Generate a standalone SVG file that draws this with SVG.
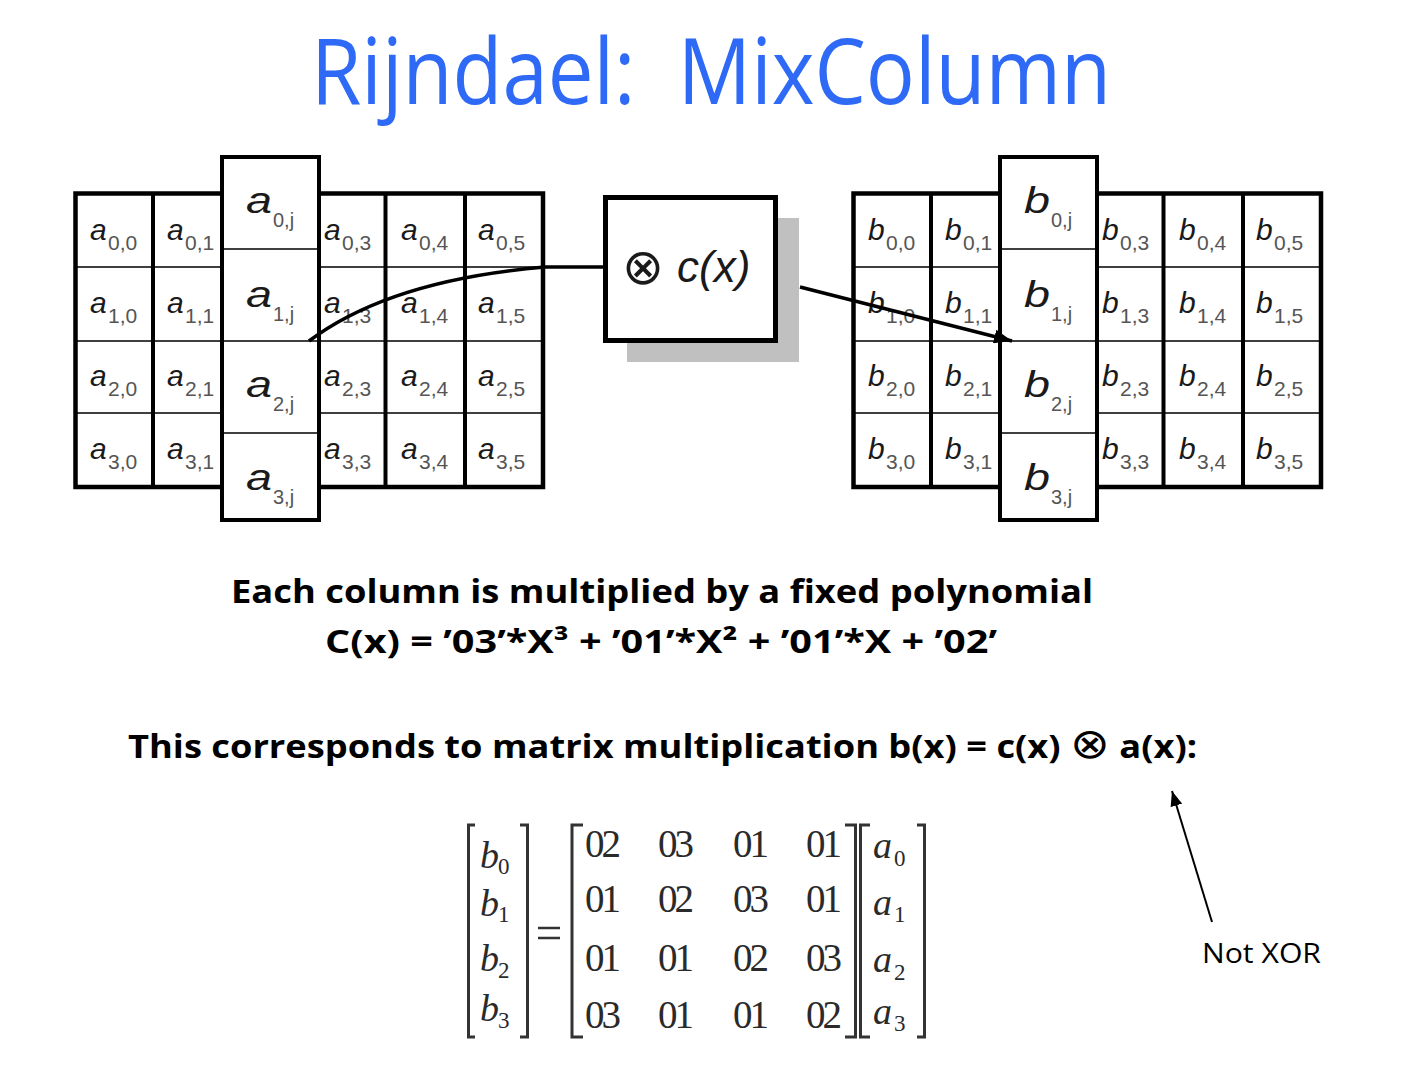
<svg xmlns="http://www.w3.org/2000/svg" xmlns:xlink="http://www.w3.org/1999/xlink" width="1418" height="1066" viewBox="0 0 1418 1066">
<style>
.m{font-family:"Liberation Sans",Arial,sans-serif;font-style:italic;font-size:30px;fill:#1a1a1a}
.s{font-family:"Liberation Sans",Arial,sans-serif;font-size:21px;fill:#555}
.mc{font-family:"Liberation Sans",Arial,sans-serif;font-style:italic;font-size:36px;fill:#1a1a1a}
.sc{font-family:"Liberation Sans",Arial,sans-serif;font-size:20px;fill:#555}
.thin{stroke:#000;stroke-width:1.5;fill:none}
.thick{stroke:#000;stroke-width:4;fill:none}
.bold{font-family:"Open Sans","DejaVu Sans",sans-serif;font-weight:bold;font-size:32px;fill:#000}
.mx{font-family:"Liberation Serif","Times New Roman",serif;font-size:39px;fill:#2a2a2a}
.mv{font-family:"Liberation Serif","Times New Roman",serif;font-style:italic;font-size:38px;fill:#2a2a2a}
.ms{font-family:"Liberation Serif","Times New Roman",serif;font-size:23px;fill:#2a2a2a}
.br{stroke:#333;stroke-width:3;fill:none}
.conn{stroke:#000;stroke-width:3.5;fill:none}
</style>
<defs>
<g id="gridShape">
<rect x="75.5" y="193.5" width="467.5" height="293.5" fill="#fff" stroke="#000" stroke-width="4.5"/>
<path class="thin" d="M75.5 267H543M75.5 341H543M75.5 413H543"/>
<path class="thick" d="M153 193.5V487M385.5 193.5V487M465 193.5V487"/>
<rect x="222" y="157" width="97" height="363" fill="#fff" stroke="#000" stroke-width="4"/>
<path class="thin" d="M222 249H319M222 341H319M222 433H319"/>
</g>
<marker id="ah" markerUnits="userSpaceOnUse" markerWidth="20" markerHeight="14" refX="18" refY="7" orient="auto">
<path d="M0 0L18 7L0 14z" fill="#000"/>
</marker>
<marker id="ah2" markerUnits="userSpaceOnUse" markerWidth="16" markerHeight="12" refX="15" refY="6" orient="auto">
<path d="M0 0L15 6L0 12z" fill="#000"/>
</marker>
</defs>
<rect width="1418" height="1066" fill="#fff"/>

<g id="title">
<text x="311" y="104" xml:space="preserve" font-family="Open Sans, DejaVu Sans, sans-serif" font-size="92" fill="#2e6af6" textLength="800" lengthAdjust="spacingAndGlyphs">Rijndael:  MixColumn</text>
</g>

<g id="grid-a">
<use xlink:href="#gridShape"/>
<text class="m" x="90" y="240">a</text><text class="s" x="108" y="250">0,0</text>
<text class="m" x="167" y="240">a</text><text class="s" x="185" y="250">0,1</text>
<text class="m" x="324" y="240">a</text><text class="s" x="342" y="250">0,3</text>
<text class="m" x="401" y="240">a</text><text class="s" x="419" y="250">0,4</text>
<text class="m" x="478" y="240">a</text><text class="s" x="496" y="250">0,5</text>
<text class="m" x="90" y="313">a</text><text class="s" x="108" y="323">1,0</text>
<text class="m" x="167" y="313">a</text><text class="s" x="185" y="323">1,1</text>
<text class="m" x="324" y="313">a</text><text class="s" x="342" y="323">1,3</text>
<text class="m" x="401" y="313">a</text><text class="s" x="419" y="323">1,4</text>
<text class="m" x="478" y="313">a</text><text class="s" x="496" y="323">1,5</text>
<text class="m" x="90" y="386">a</text><text class="s" x="108" y="396">2,0</text>
<text class="m" x="167" y="386">a</text><text class="s" x="185" y="396">2,1</text>
<text class="m" x="324" y="386">a</text><text class="s" x="342" y="396">2,3</text>
<text class="m" x="401" y="386">a</text><text class="s" x="419" y="396">2,4</text>
<text class="m" x="478" y="386">a</text><text class="s" x="496" y="396">2,5</text>
<text class="m" x="90" y="459">a</text><text class="s" x="108" y="469">3,0</text>
<text class="m" x="167" y="459">a</text><text class="s" x="185" y="469">3,1</text>
<text class="m" x="324" y="459">a</text><text class="s" x="342" y="469">3,3</text>
<text class="m" x="401" y="459">a</text><text class="s" x="419" y="469">3,4</text>
<text class="m" x="478" y="459">a</text><text class="s" x="496" y="469">3,5</text>
<text class="mc" x="246" y="213" textLength="26" lengthAdjust="spacingAndGlyphs">a</text><text class="sc" x="273" y="227">0,j</text>
<text class="mc" x="246" y="307" textLength="26" lengthAdjust="spacingAndGlyphs">a</text><text class="sc" x="273" y="321">1,j</text>
<text class="mc" x="246" y="397" textLength="26" lengthAdjust="spacingAndGlyphs">a</text><text class="sc" x="273" y="411">2,j</text>
<text class="mc" x="246" y="490" textLength="26" lengthAdjust="spacingAndGlyphs">a</text><text class="sc" x="273" y="504">3,j</text>
</g>

<g id="grid-b">
<use xlink:href="#gridShape" transform="translate(778,0)"/>
<text class="m" x="868" y="240">b</text><text class="s" x="886" y="250">0,0</text>
<text class="m" x="945" y="240">b</text><text class="s" x="963" y="250">0,1</text>
<text class="m" x="1102" y="240">b</text><text class="s" x="1120" y="250">0,3</text>
<text class="m" x="1179" y="240">b</text><text class="s" x="1197" y="250">0,4</text>
<text class="m" x="1256" y="240">b</text><text class="s" x="1274" y="250">0,5</text>
<text class="m" x="868" y="313">b</text><text class="s" x="886" y="323">1,0</text>
<text class="m" x="945" y="313">b</text><text class="s" x="963" y="323">1,1</text>
<text class="m" x="1102" y="313">b</text><text class="s" x="1120" y="323">1,3</text>
<text class="m" x="1179" y="313">b</text><text class="s" x="1197" y="323">1,4</text>
<text class="m" x="1256" y="313">b</text><text class="s" x="1274" y="323">1,5</text>
<text class="m" x="868" y="386">b</text><text class="s" x="886" y="396">2,0</text>
<text class="m" x="945" y="386">b</text><text class="s" x="963" y="396">2,1</text>
<text class="m" x="1102" y="386">b</text><text class="s" x="1120" y="396">2,3</text>
<text class="m" x="1179" y="386">b</text><text class="s" x="1197" y="396">2,4</text>
<text class="m" x="1256" y="386">b</text><text class="s" x="1274" y="396">2,5</text>
<text class="m" x="868" y="459">b</text><text class="s" x="886" y="469">3,0</text>
<text class="m" x="945" y="459">b</text><text class="s" x="963" y="469">3,1</text>
<text class="m" x="1102" y="459">b</text><text class="s" x="1120" y="469">3,3</text>
<text class="m" x="1179" y="459">b</text><text class="s" x="1197" y="469">3,4</text>
<text class="m" x="1256" y="459">b</text><text class="s" x="1274" y="469">3,5</text>
<text class="mc" x="1024" y="213" textLength="26" lengthAdjust="spacingAndGlyphs">b</text><text class="sc" x="1051" y="227">0,j</text>
<text class="mc" x="1024" y="307" textLength="26" lengthAdjust="spacingAndGlyphs">b</text><text class="sc" x="1051" y="321">1,j</text>
<text class="mc" x="1024" y="397" textLength="26" lengthAdjust="spacingAndGlyphs">b</text><text class="sc" x="1051" y="411">2,j</text>
<text class="mc" x="1024" y="490" textLength="26" lengthAdjust="spacingAndGlyphs">b</text><text class="sc" x="1051" y="504">3,j</text>
</g>

<g id="box-cx">
<rect x="627" y="218" width="172" height="144" fill="#c0c0c0"/>
<rect x="605.5" y="197.5" width="170" height="143" fill="#fff" stroke="#000" stroke-width="5"/>
<text x="622" y="284" font-family="DejaVu Sans, sans-serif" font-size="50" fill="#1a1a1a">⊗</text>
<text x="677" y="282" font-family="Liberation Sans, Arial, sans-serif" font-style="italic" font-size="44" fill="#1a1a1a">c(x)</text>
</g>

<g id="connectors">
<path class="conn" d="M309 341Q390 280 545 267L603 267"/>
<line class="conn" x1="800" y1="287" x2="1012" y2="341" marker-end="url(#ah)"/>
<line x1="1212" y1="922" x2="1172" y2="791" stroke="#000" stroke-width="2" marker-end="url(#ah2)"/>
</g>

<g id="caption">
<text class="bold" x="231" y="603" textLength="862" lengthAdjust="spacingAndGlyphs">Each column is multiplied by a fixed polynomial</text>
<text class="bold" x="325" y="653" textLength="672" lengthAdjust="spacingAndGlyphs">C(x) = ’03’*X³ + ’01’*X² + ’01’*X + ’02’</text>
<text class="bold" x="128" y="758" textLength="1069" lengthAdjust="spacingAndGlyphs">This corresponds to matrix multiplication b(x) = c(x) <tspan font-family="DejaVu Sans, sans-serif" font-weight="normal" font-size="42">⊗</tspan> a(x):</text>
</g>

<g id="not-xor">
<text x="1202" y="963" font-family="Open Sans, DejaVu Sans, sans-serif" font-size="28" fill="#000" textLength="119" lengthAdjust="spacingAndGlyphs">Not XOR</text>
</g>

<g id="matrix">
<path class="br" d="M475 825H468.5V1037H475"/>
<path class="br" d="M520 825H527.5V1037H520"/>
<path stroke="#333" stroke-width="2.5" d="M538 928H560M538 938H560"/>
<path class="br" d="M583 825H572V1037H583"/>
<path class="br" d="M845 825H855.5V1037H845"/>
<path class="br" d="M870 825H860.5V1037H870"/>
<path class="br" d="M917 825H924.5V1037H917"/>
<text class="mv" x="480" y="868">b</text><text class="ms" x="498" y="874">0</text>
<text class="mv" x="480" y="916">b</text><text class="ms" x="498" y="922">1</text>
<text class="mv" x="480" y="971">b</text><text class="ms" x="498" y="978">2</text>
<text class="mv" x="480" y="1021">b</text><text class="ms" x="498" y="1028">3</text>
<text class="mx" x="585" y="857" textLength="36">02</text><text class="mx" x="658" y="857" textLength="36">03</text><text class="mx" x="733" y="857" textLength="36">01</text><text class="mx" x="806" y="857" textLength="36">01</text>
<text class="mx" x="585" y="912" textLength="36">01</text><text class="mx" x="658" y="912" textLength="36">02</text><text class="mx" x="733" y="912" textLength="36">03</text><text class="mx" x="806" y="912" textLength="36">01</text>
<text class="mx" x="585" y="971" textLength="36">01</text><text class="mx" x="658" y="971" textLength="36">01</text><text class="mx" x="733" y="971" textLength="36">02</text><text class="mx" x="806" y="971" textLength="36">03</text>
<text class="mx" x="585" y="1028" textLength="36">03</text><text class="mx" x="658" y="1028" textLength="36">01</text><text class="mx" x="733" y="1028" textLength="36">01</text><text class="mx" x="806" y="1028" textLength="36">02</text>
<text class="mv" x="873" y="858">a</text><text class="ms" x="894" y="866">0</text>
<text class="mv" x="873" y="915">a</text><text class="ms" x="894" y="922">1</text>
<text class="mv" x="873" y="972">a</text><text class="ms" x="894" y="980">2</text>
<text class="mv" x="873" y="1024">a</text><text class="ms" x="894" y="1031">3</text>
</g>
</svg>
